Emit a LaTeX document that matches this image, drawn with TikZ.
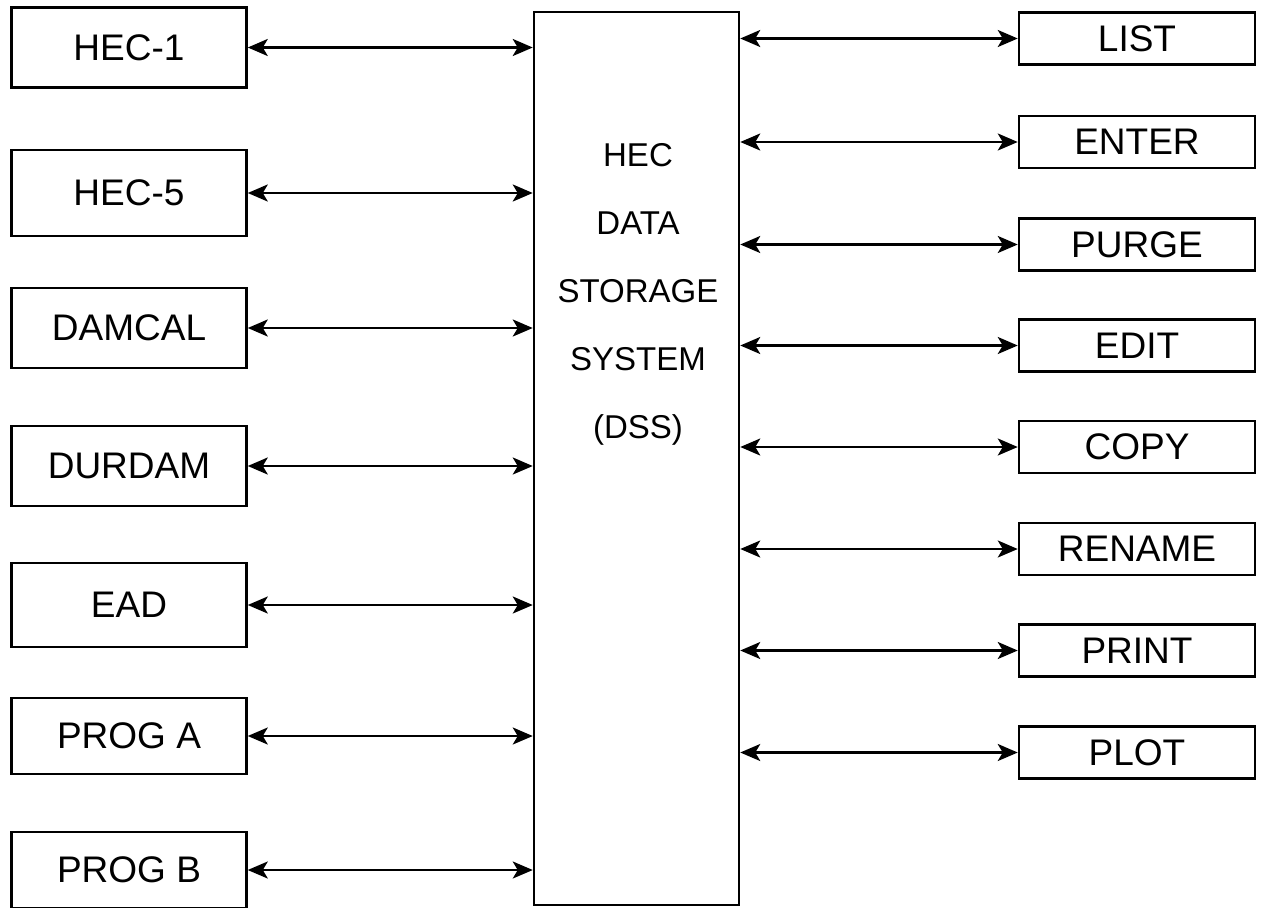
\documentclass[tikz,border=0pt]{standalone}
\usepackage{fontspec}
\setmainfont{Liberation Sans}
\usepackage{tikz}
\usetikzlibrary{arrows.meta}

\tikzset{
    progbox/.style = {draw, line width = 2.5pt, minimum width = 235pt, minimum height = 80pt,
        inner sep = 0pt, font = \fontsize{37}{40}\selectfont},
    utilbox/.style = {draw, line width = 2.5pt, minimum width = 236pt, minimum height = 52pt,
        inner sep = 0pt, font = \fontsize{37}{40}\selectfont},
    link/.style = {line width = 2.5pt,
        {Stealth[length = 20pt, width = 17pt, inset = 5pt]}-{Stealth[length = 20pt, width = 17pt, inset = 5pt]}}
}

\begin{document}
\begin{tikzpicture}[x = 1pt, y = -1pt]
        \useasboundingbox (0, 0) rectangle (1265, 907);

        \node [draw, line width = 2.5pt, minimum width = 205pt, minimum height = 893pt, inner sep = 0pt]
            (dss) at (636.5, 458.5) {};
        \node [align = center, font = \fontsize{33}{68}\selectfont] (dsslabel) at (638, 294)
            {HEC\\DATA\\STORAGE\\SYSTEM\\(DSS)};

        \node [progbox] (hecone) at (129, 47.5) {HEC-1};
        \node [progbox, minimum height = 86pt] (hecfive) at (129, 193) {HEC-5};
        \node [progbox] (damcal) at (129, 328) {DAMCAL};
        \node [progbox] (durdam) at (129, 466) {DURDAM};
        \node [progbox, minimum height = 84pt] (ead) at (129, 605) {EAD};
        \node [progbox, minimum height = 76pt] (proga) at (129, 736) {PROG A};
        \node [progbox, minimum height = 76pt] (progb) at (129, 870) {PROG B};

        \node [utilbox] (list) at (1137, 38.5) {LIST};
        \node [utilbox] (enter) at (1137, 142) {ENTER};
        \node [utilbox] (purge) at (1137, 244.5) {PURGE};
        \node [utilbox] (edit) at (1137, 345.5) {EDIT};
        \node [utilbox] (copy) at (1137, 447) {COPY};
        \node [utilbox] (rename) at (1137, 549) {RENAME};
        \node [utilbox] (print) at (1137, 650.5) {PRINT};
        \node [utilbox] (plot) at (1137, 752.5) {PLOT};

        \draw [link] (hecone.east) -- (hecone.east -| dss.west);
        \draw [link] (hecfive.east) -- (hecfive.east -| dss.west);
        \draw [link] (damcal.east) -- (damcal.east -| dss.west);
        \draw [link] (durdam.east) -- (durdam.east -| dss.west);
        \draw [link] (ead.east) -- (ead.east -| dss.west);
        \draw [link] (proga.east) -- (proga.east -| dss.west);
        \draw [link] (progb.east) -- (progb.east -| dss.west);

        \draw [link] (list.west -| dss.east) -- (list.west);
        \draw [link] (enter.west -| dss.east) -- (enter.west);
        \draw [link] (purge.west -| dss.east) -- (purge.west);
        \draw [link] (edit.west -| dss.east) -- (edit.west);
        \draw [link] (copy.west -| dss.east) -- (copy.west);
        \draw [link] (rename.west -| dss.east) -- (rename.west);
        \draw [link] (print.west -| dss.east) -- (print.west);
        \draw [link] (plot.west -| dss.east) -- (plot.west);
\end{tikzpicture}
\end{document}
